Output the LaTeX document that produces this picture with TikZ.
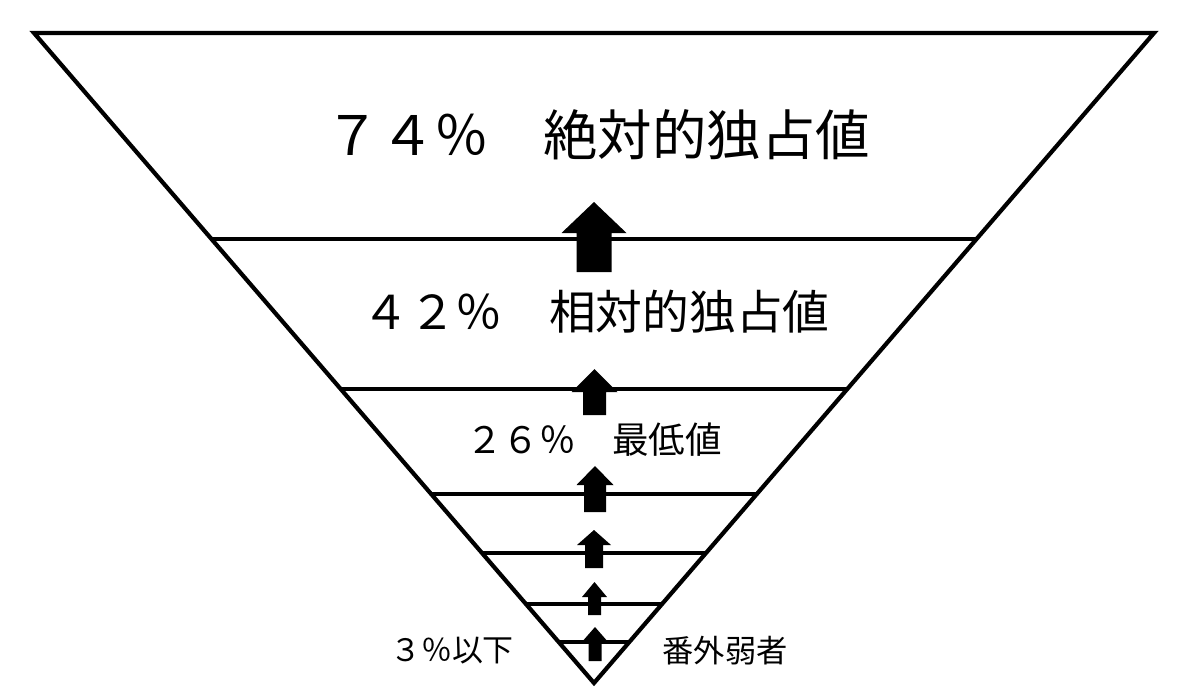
\documentclass[tikz,border=0pt]{standalone}
\usepackage{fontspec}
\setmainfont{Noto Sans CJK JP}
\usetikzlibrary{calc}

\tikzset{
  edge/.style={line width=0.42mm, line join=miter},
  tier/.style={inner sep=0pt},
}
% block arrow: x, tip, head base, head half width, shaft half width, bottom
\newcommand{\uparr}[6]{%
  \fill (#1,#2) -- (#1+#4,#3) -- (#1+#5,#3) -- (#1+#5,#6)
    -- (#1-#5,#6) -- (#1-#5,#3) -- (#1-#4,#3) -- cycle;}

\begin{document}
\begin{tikzpicture}[x=0.1mm,y=-0.1mm]
\useasboundingbox (0,0) rectangle (1199,697);
\coordinate (tl) at (34,33);
\coordinate (tr) at (1154,33);
\coordinate (apex) at (594,683);
\draw[edge] (tl) -- (tr) -- (apex) -- cycle;
% levels
\foreach \y in {239,389,494,553,604,642} {
  \draw[edge] ($(tl)!{(\y-33)/650}!(apex)$) -- ($(tr)!{(\y-33)/650}!(apex)$);
}
% arrows
\uparr{594}{202}{233}{32.5}{17.5}{272}
\uparr{594.5}{369}{392}{23}{11.5}{415}
\uparr{595}{466}{485}{18.5}{11}{512}
\uparr{594}{530}{545}{17}{9}{568}
\uparr{594.5}{582}{597}{12.5}{6.5}{615}
\uparr{595}{627}{643}{14}{6.5}{661}
% labels
\node[tier, font=\fontsize{15.5}{18}\selectfont] (absolute) at (598,135) {７４％　絶対的独占値};
\node[tier, font=\fontsize{13.3}{16}\selectfont] (relative) at (596,312) {４２％　相対的独占値};
\node[tier, font=\fontsize{10.4}{12}\selectfont] (minimum) at (594,440) {２６％　最低値};
\node[tier, font=\fontsize{8.8}{10}\selectfont] (below) at (452,651) {３％以下};
\node[tier, font=\fontsize{8.9}{10}\selectfont] (outside) at (725,651) {番外弱者};
\end{tikzpicture}
\end{document}
